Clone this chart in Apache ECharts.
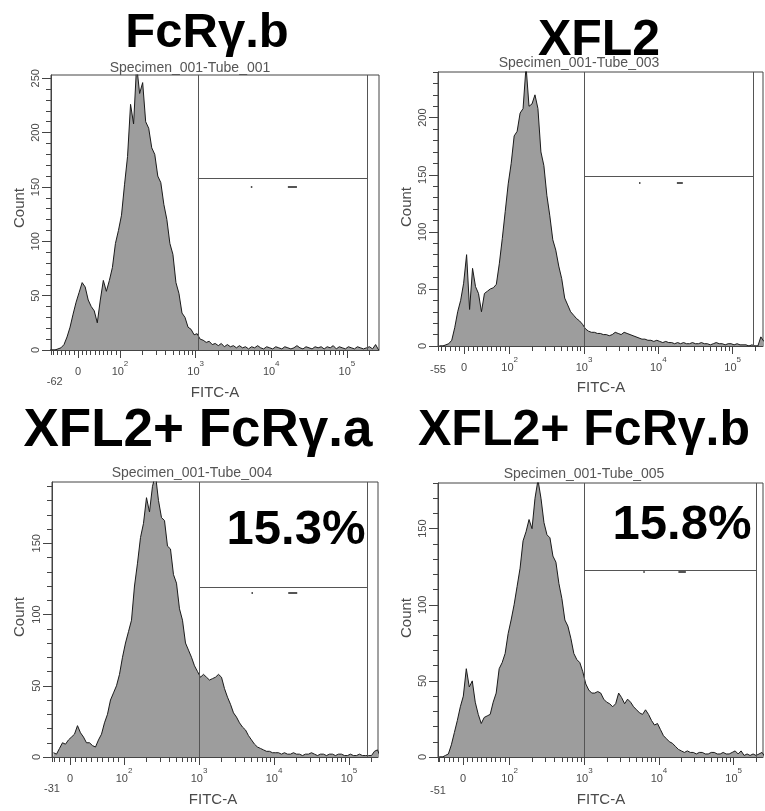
<!DOCTYPE html>
<html>
<head>
<meta charset="utf-8">
<title>FITC-A histograms</title>
<script src="https://cdn.jsdelivr.net/npm/echarts@6/dist/echarts.min.js"></script>
<style>
  html, body { margin: 0; padding: 0; background: #fff; }
  #chart { width: 765px; height: 811px; }
</style>
</head>
<body>
<div id="chart"></div>
<script>
// bins sit on the biexponential FITC-A display scale, 1 unit = 1 decade (10^2 -> 2)
const binStart = 1.06
const binStep = 0.04

const countsFcrB = [0, 0, 0, 1, 2, 5, 12, 21, 33, 44, 53, 62, 58, 46, 40, 36, 25, 46, 64, 54,
  64, 76, 98, 110, 124, 152, 178, 226, 208, 262, 236, 246, 210, 204, 186, 180, 160, 154, 134, 120,
  98, 88, 62, 52, 34, 30, 21, 19, 14, 15, 10, 9, 7, 8, 5, 6, 4, 6, 3, 5,
  3, 4, 2, 4, 2, 3, 1, 3, 2, 4, 2, 1, 3, 2, 1, 3, 2, 1, 3, 2,
  1, 2, 4, 2, 1, 3, 2, 1, 3, 2, 3, 1, 3, 2, 4, 1, 3, 2, 1, 3,
  2, 1, 3, 2, 1, 2, 3, 1, 5, 0]
const countsXfl2 = [0, 0, 1, 2, 5, 16, 30, 40, 55, 80, 32, 68, 52, 46, 30, 46, 48, 50, 51, 54,
  72, 94, 118, 142, 160, 184, 188, 204, 208, 245, 210, 212, 220, 208, 170, 158, 132, 114, 93, 84,
  70, 59, 42, 36, 30, 27, 24, 22, 19, 15, 13, 12, 12, 11, 11, 10, 10, 9, 10, 12,
  11, 10, 12, 11, 10, 9, 8, 7, 6, 6, 5, 5, 4, 5, 4, 3, 4, 3, 3, 2,
  3, 2, 3, 2, 2, 3, 2, 2, 3, 2, 2, 1, 2, 3, 2, 2, 1, 2, 2, 1,
  2, 1, 1, 1, 0, 1, 0, 0, 8, 4]
const countsXfl2A = [3, 2, 6, 10, 9, 12, 14, 16, 22, 17, 14, 10, 10, 8, 7, 12, 16, 24, 30, 40,
  45, 50, 58, 70, 80, 88, 96, 120, 136, 154, 164, 182, 172, 190, 198, 180, 168, 166, 148, 146,
  128, 122, 104, 96, 80, 75, 70, 64, 60, 56, 58, 56, 54, 55, 56, 58, 56, 48, 42, 37,
  31, 28, 24, 21, 19, 15, 12, 9, 7, 6, 5, 4, 4, 3, 3, 3, 2, 3, 2, 2,
  3, 2, 2, 1, 2, 2, 3, 2, 1, 2, 2, 1, 2, 2, 1, 2, 2, 1, 1, 2,
  1, 1, 2, 1, 1, 1, 1, 4, 5, 0]
const countsXfl2B = [0, 0, 1, 2, 8, 16, 24, 33, 40, 58, 46, 50, 36, 28, 22, 26, 27, 28, 36, 42,
  58, 62, 68, 81, 90, 100, 112, 124, 142, 148, 156, 150, 170, 182, 170, 154, 146, 144, 132, 128,
  114, 104, 90, 86, 78, 68, 64, 62, 56, 48, 44, 42, 42, 43, 42, 38, 36, 35, 33, 35,
  42, 39, 35, 38, 36, 33, 31, 29, 28, 31, 28, 24, 21, 22, 18, 14, 12, 10, 9, 7,
  5, 4, 3, 4, 3, 3, 2, 3, 3, 2, 2, 3, 3, 2, 2, 3, 2, 2, 3, 4,
  2, 4, 1, 2, 1, 2, 1, 2, 3, 0]

const titles = ['FcRγ.b', 'XFL2', 'XFL2+ FcRγ.a', 'XFL2+ FcRγ.b']
const tubes = ['Specimen_001-Tube_001', 'Specimen_001-Tube_003', 'Specimen_001-Tube_004', 'Specimen_001-Tube_005']
const percents = ['', '', '15.3%', '15.8%']
const lowLabels = ['-62', '-55', '-31', '-51']
const lowPos = [1.137, 1.035, 1.04, 1.041]
const zeroPos = [1.445, 1.385, 1.28, 1.375]
const yMax = [253, 240, 193, 180]
// gate: lower edge, upper edge (display units) and the count level of the bar
const gateLow = [3.03, 3, 3, 3]
const gateHigh = [5.267, 5.279, 5.24, 5.3]
const gateCount = [158, 149, 119, 123]
const gateMarks = [[3.73, 4.22, 4.34, 150], [3.74, 4.25, 4.33, 143], [3.7, 4.19, 4.31, 115], [3.79, 4.26, 4.36, 122]]

const allCounts = [countsFcrB, countsXfl2, countsXfl2A, countsXfl2B]

// layout, in page pixels
const panels = [
  { left: 51, top: 75, width: 328, height: 275, xMin: 1.088, xMax: 5.425, lowMargin: 26,
    title: [207, 33, 49], tube: [190, 68], count: [20, 208], fitc: [215, 393] },
  { left: 438, top: 72, width: 325, height: 274, xMin: 1.035, xMax: 5.409, lowMargin: 18,
    title: [599, 41, 50], tube: [579, 63], count: [407, 207], fitc: [601, 388] },
  { left: 52, top: 482, width: 326, height: 275, xMin: 1.04, xMax: 5.387, lowMargin: 26,
    title: [198, 431, 53], tube: [192, 473], count: [20, 617], fitc: [213, 800], pct: [296, 530] },
  { left: 438, top: 483, width: 325, height: 274, xMin: 1.041, xMax: 5.393, lowMargin: 28,
    title: [584, 431, 50], tube: [584, 474], count: [407, 618], fitc: [601, 800], pct: [682, 525] }
]

const FONT = '"Liberation Sans", Arial, Helvetica, sans-serif'
const AXIS = '#444'
const TXT = '#4a4a4a'

const tickRich = {
  b: { fontSize: 11, lineHeight: 17, verticalAlign: 'bottom', color: TXT, fontFamily: FONT },
  s: { fontSize: 8, lineHeight: 9, verticalAlign: 'top', color: TXT, fontFamily: FONT }
}

function decadeLabel(v) {
  const k = Math.round(v)
  if (Math.abs(v - k) < 1e-6 && k >= 2) return '{b|10}{s|' + k + '}'
  return '{b|0}'
}

function minorX(z, lo, hi) {
  const out = []
  for (let v = -60; v < 100; v += 10) {
    if (v !== 0) out.push(z + v / 100 * (2 - z))
  }
  for (let k = 2; k <= 5; k++) {
    for (let m = 2; m <= 9; m++) out.push(k + Math.log10(m))
  }
  out.push(lo)
  return out.filter(p => p >= lo && p <= hi)
}

function yTicks(max, step) {
  const out = []
  for (let v = 0; v <= max; v += step) out.push(v)
  return out
}

const grid = []
const xAxis = []
const yAxis = []
const series = []
const graphic = []

panels.forEach((pn, i) => {
  grid.push({
    left: pn.left, top: pn.top, width: pn.width, height: pn.height,
    show: true, borderColor: AXIS, borderWidth: 1, backgroundColor: 'transparent'
  })

  const majors = [zeroPos[i], 2, 3, 4, 5]
  xAxis.push({
    type: 'value', gridIndex: i, position: 'bottom', min: pn.xMin, max: pn.xMax,
    axisLine: { show: true, onZero: false, lineStyle: { color: AXIS } },
    splitLine: { show: false },
    axisTick: { show: true, length: 8, customValues: majors, lineStyle: { color: AXIS } },
    axisLabel: { customValues: majors, margin: 10, formatter: decadeLabel, rich: tickRich }
  })
  xAxis.push({
    type: 'value', gridIndex: i, position: 'bottom', min: pn.xMin, max: pn.xMax,
    axisLine: { show: false },
    splitLine: { show: false },
    axisTick: { show: true, length: 5, customValues: minorX(zeroPos[i], pn.xMin, pn.xMax), lineStyle: { color: AXIS } },
    axisLabel: {
      customValues: [Math.max(lowPos[i], pn.xMin)], formatter: () => lowLabels[i],
      margin: pn.lowMargin, fontSize: 11, color: TXT, fontFamily: FONT
    }
  })

  const yMajors = yTicks(yMax[i], 50)
  const yMinors = yTicks(yMax[i], 10).filter(v => v % 50 !== 0)
  yAxis.push({
    type: 'value', gridIndex: i, position: 'left', min: 0, max: yMax[i],
    axisLine: { show: true, lineStyle: { color: AXIS } },
    splitLine: { show: false },
    axisTick: { show: true, length: 9, customValues: yMajors, lineStyle: { color: AXIS } },
    axisLabel: { customValues: yMajors, rotate: 90, margin: 10, fontSize: 11, color: TXT, fontFamily: FONT }
  })
  yAxis.push({
    type: 'value', gridIndex: i, position: 'left', min: 0, max: yMax[i],
    axisLine: { show: false },
    splitLine: { show: false },
    axisTick: { show: true, length: 5, customValues: yMinors, lineStyle: { color: AXIS } },
    axisLabel: { show: false }
  })

  const gm = gateMarks[i]
  series.push({
    type: 'line', xAxisIndex: 2 * i, yAxisIndex: 2 * i,
    symbol: 'none', clip: true,
    data: allCounts[i].map((c, j) => [binStart + j * binStep, c]),
    lineStyle: { color: '#1a1a1a', width: 1 },
    areaStyle: { color: '#9d9d9d', opacity: 1 },
    markLine: {
      silent: true, symbol: ['none', 'none'], animation: false,
      label: { show: false },
      lineStyle: { color: '#555', width: 1, type: 'solid' },
      data: [
        [{ coord: [gateLow[i], 0] }, { coord: [gateLow[i], yMax[i]] }],
        [{ coord: [gateLow[i], gateCount[i]] }, { coord: [gateHigh[i], gateCount[i]] }],
        [{ coord: [gateHigh[i], 0] }, { coord: [gateHigh[i], yMax[i]] }],
        [{ coord: [gm[0], gm[3]], lineStyle: { width: 2 } }, { coord: [gm[0] + 0.02, gm[3]] }],
        [{ coord: [gm[1], gm[3]], lineStyle: { width: 2 } }, { coord: [gm[2], gm[3]] }]
      ]
    }
  })

  graphic.push({
    type: 'text', x: pn.title[0], y: pn.title[1],
    style: { text: titles[i], font: 'bold ' + pn.title[2] + 'px ' + FONT, fill: '#000',
      textAlign: 'center', textVerticalAlign: 'middle' }
  })
  graphic.push({
    type: 'text', x: pn.tube[0], y: pn.tube[1],
    style: { text: tubes[i], font: '14px ' + FONT, fill: '#555', textAlign: 'center', textVerticalAlign: 'middle' }
  })
  graphic.push({
    type: 'text', x: pn.count[0], y: pn.count[1], rotation: Math.PI / 2,
    style: { text: 'Count', font: '15px ' + FONT, fill: TXT, textAlign: 'center', textVerticalAlign: 'middle' }
  })
  graphic.push({
    type: 'text', x: pn.fitc[0], y: pn.fitc[1],
    style: { text: 'FITC-A', font: '15px ' + FONT, fill: TXT, textAlign: 'center', textVerticalAlign: 'middle' }
  })
  if (pn.pct) {
    graphic.push({
      type: 'text', x: pn.pct[0], y: pn.pct[1],
      style: { text: percents[i], font: 'bold 49px ' + FONT, fill: '#000', textAlign: 'center', textVerticalAlign: 'middle' }
    })
  }
})

const chart = echarts.init(document.getElementById('chart'))
chart.setOption({
  animation: false,
  backgroundColor: '#fff',
  grid: grid,
  xAxis: xAxis,
  yAxis: yAxis,
  series: series,
  graphic: graphic
})
</script>
</body>
</html>
